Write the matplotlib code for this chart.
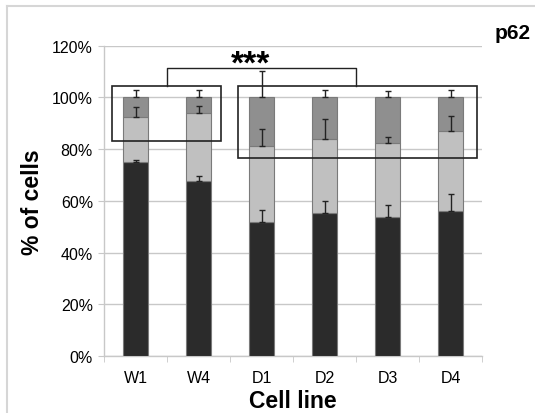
import matplotlib.pyplot as plt
import numpy as np
from matplotlib.patches import Rectangle
from matplotlib.lines import Line2D

plt.rcParams['font.family'] = ['Liberation Sans', 'DejaVu Sans']

# 細胞株ごとの割合 (%)
cell_lines = ["W1", "W4", "D1", "D2", "D3", "D4"]
low = [75.0, 67.8, 52.0, 55.2, 53.8, 56.0]
low_err = [0.7, 2.0, 4.4, 4.7, 4.6, 6.7]
mid = [17.4, 26.1, 29.2, 28.7, 28.4, 31.0]
mid_err = [4.0, 2.7, 6.6, 7.9, 2.7, 5.8]
high = [7.6, 6.1, 18.8, 16.1, 17.8, 13.0]
high_err = [3.0, 3.0, 10.3, 2.8, 2.6, 2.8]
yticks = [0, 20, 40, 60, 80, 100, 120]

x = np.arange(len(cell_lines))
low = np.array(low)
mid = np.array(mid)
high = np.array(high)

fig = plt.figure(figsize=(5.35, 4.14), dpi=100)
ax = fig.add_axes([0.1944, 0.1377, 0.7066, 0.7493])

w = 0.41
ec = "#7a7a7a"
ax.bar(x, low, w, color="#2b2b2b", edgecolor=ec, linewidth=0.8, zorder=3)
ax.bar(x, mid, w, bottom=low, color="#c0c0c0", edgecolor=ec, linewidth=0.8, zorder=3)
ax.bar(x, high, w, bottom=low + mid, color="#8f8f8f", edgecolor=ec, linewidth=0.8, zorder=3)

ekw = dict(fmt="none", ecolor="#222222", elinewidth=1.0, capsize=2.5, capthick=1.0, zorder=4)
zeros = np.zeros(len(x))
ax.errorbar(x, low, yerr=[zeros, low_err], **ekw)
ax.errorbar(x, low + mid, yerr=[zeros, mid_err], **ekw)
ax.errorbar(x, low + mid + high, yerr=[zeros, high_err], **ekw)

ax.set_xlim(-0.5, 5.5)
ax.set_ylim(0, 120)
ax.set_yticks(yticks)
ax.set_yticklabels([f"{v}%" for v in yticks], fontsize=11.5)
ax.yaxis.grid(True, color="#c8c8c8", linewidth=1.0, zorder=0)
ax.set_axisbelow(True)

ax.set_xticks(x)
ax.set_xticklabels(cell_lines, fontsize=11.5)
ax.set_xticks(np.arange(-0.5, 6, 1), minor=True)
ax.tick_params(axis="x", which="major", length=0, pad=10)
ax.tick_params(axis="x", which="minor", length=4, color="#c8c8c8")
ax.tick_params(axis="y", length=4, color="#c8c8c8", pad=4)

for s in ["top", "right"]:
    ax.spines[s].set_visible(False)
for s in ["left", "bottom"]:
    ax.spines[s].set_color("#c8c8c8")
    ax.spines[s].set_linewidth(1.0)

ax.set_ylabel("% of cells", fontsize=16.5, fontweight="bold", labelpad=6)
ax.set_xlabel("Cell line", fontsize=16.5, fontweight="bold", labelpad=3)

# グループの枠
ax.add_patch(Rectangle((-0.37, 83.0), 1.73, 21.6, fill=False, edgecolor="#222222",
                       linewidth=1.2, clip_on=False, zorder=5))
ax.add_patch(Rectangle((1.62, 76.7), 3.8, 27.9, fill=False, edgecolor="#222222",
                       linewidth=1.2, clip_on=False, zorder=5))
ax.plot([0.5, 0.5, 3.5, 3.5], [104.6, 111.5, 111.5, 104.6], color="#222222",
        linewidth=1.0, clip_on=False, zorder=5)
ax.text(1.83, 109.5, "***", fontsize=24, fontweight="bold", ha="center", va="baseline")

fig.text(0.992, 0.92, "p62", fontsize=15, fontweight="bold", ha="right", va="center")

# 外枠
fig.add_artist(Line2D([0.013, 1.0], [0.983, 0.983], color="#d6d6d6", linewidth=1.5))
fig.add_artist(Line2D([0.013, 0.013], [0.0, 0.983], color="#d6d6d6", linewidth=1.5))

fig.savefig("out.png", dpi=100)
